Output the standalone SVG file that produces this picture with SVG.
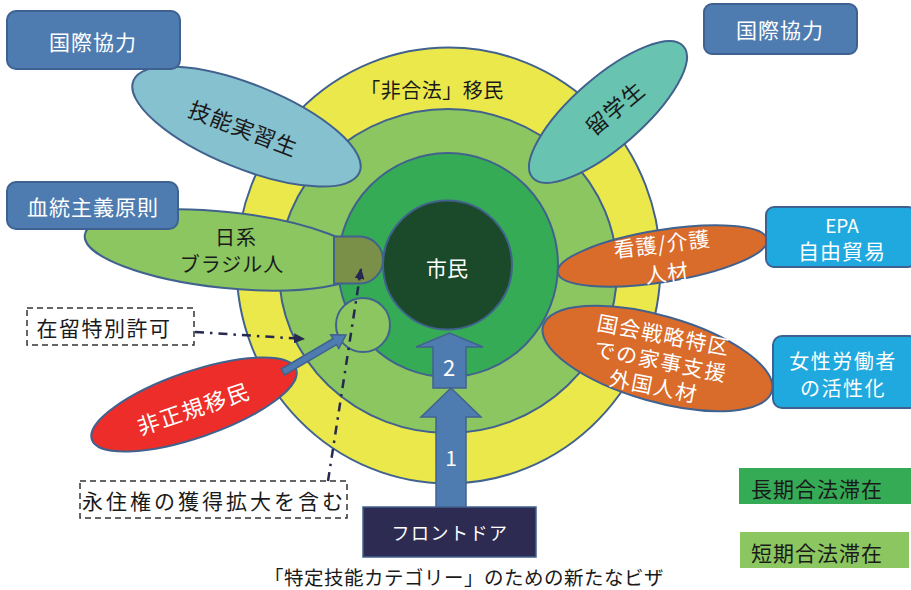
<svg xmlns="http://www.w3.org/2000/svg" width="911" height="590" viewBox="0 0 911 590">
<defs>
<style>
.ol{stroke:#41628e;stroke-width:2}
.t{font-family:"Noto Sans CJK JP","Noto Sans",sans-serif;text-anchor:middle;dominant-baseline:central}
.w{fill:#ffffff}
.k{fill:#1a1a1a}
.box{fill:#4e7cb0;stroke:#3e6190;stroke-width:2}
.box2{fill:#20a9de;stroke:#3e6190;stroke-width:2}
.dash{fill:#ffffff;stroke:#333333;stroke-width:1.5;stroke-dasharray:6 4}
.dd{fill:none;stroke:#27284f;stroke-width:2.5;stroke-dasharray:9 6 2.5 6}
.barrow{fill:#4e7cb0;stroke:#41628e;stroke-width:1.5}
</style>
<marker id="ah" markerWidth="11" markerHeight="10" refX="10" refY="5" orient="auto" markerUnits="userSpaceOnUse">
<path d="M0,0 L11,5 L0,10 Z" fill="#27284f"/>
</marker>
</defs>

<g id="rings">
<ellipse id="ring-yellow" class="ol" cx="448.5" cy="265.5" rx="212" ry="218" fill="#ebe84c"/>
<ellipse id="ring-lightgreen" class="ol" cx="448" cy="271" rx="169" ry="162" fill="#8bc660"/>
<ellipse id="ring-green" class="ol" cx="448" cy="265" rx="110" ry="112" fill="#35ab55"/>
</g>

<g id="illegal-label"><text class="t k" x="432" y="89" font-size="20" letter-spacing="0.5">「非合法」移民</text></g>

<g id="ginou">
<ellipse class="ol" cx="246.5" cy="126.5" rx="122" ry="42" transform="rotate(22 246.5 126.5)" fill="#86c1cf"/>
<text class="t k" x="244" y="127" font-size="22" letter-spacing="1" transform="rotate(21 244 127)">技能実習生</text>
</g>

<g id="ryugaku">
<ellipse class="ol" cx="608" cy="112" rx="100" ry="35" transform="rotate(-41 608 112)" fill="#68c4b0"/>
<text class="t k" x="614" y="107" font-size="22" letter-spacing="1" transform="rotate(-40 614 107)">留学生</text>
</g>

<g id="nikkei">
<ellipse class="ol" cx="226" cy="250" rx="142" ry="38" transform="rotate(6 226 250)" fill="#8bc660"/>
<text class="t k" x="236" y="236" font-size="20" letter-spacing="1">日系</text>
<text class="t k" x="232" y="263" font-size="20" letter-spacing="1">ブラジル人</text>
</g>

<g id="dshape">
<path class="ol" d="M334,236.5 L359.5,236.5 A23.5,23.5 0 0 1 359.5,283.5 L334,283.5 Z" fill="#7a8f48"/>
</g>

<g id="small-circle">
<circle class="ol" cx="363" cy="325" r="27" fill="#8bc660"/>
</g>

<g id="citizen">
<circle class="ol" cx="447.5" cy="265" r="64.5" fill="#1a4a2a"/>
<text class="t w" x="447" y="267" font-size="21">市民</text>
</g>

<g id="kango">
<ellipse class="ol" cx="662.5" cy="256" rx="106" ry="26" transform="rotate(-9 662.5 256)" fill="#d96b2b"/>
<text class="t w" x="662" y="243" font-size="21" letter-spacing="1" transform="rotate(-7 662 243)">看護/介護</text>
<text class="t w" x="667" y="272" font-size="21" letter-spacing="1" transform="rotate(-7 667 272)">人材</text>
</g>

<g id="tokku">
<ellipse class="ol" cx="657.5" cy="358.5" rx="119" ry="43" transform="rotate(16 657.5 358.5)" fill="#d96b2b"/>
<text class="t w" x="664" y="334" font-size="21" letter-spacing="1.5" transform="rotate(11 664 334)">国会戦略特区</text>
<text class="t w" x="661" y="360" font-size="21" letter-spacing="1.5" transform="rotate(11 661 360)">での家事支援</text>
<text class="t w" x="654" y="385" font-size="21" letter-spacing="1.5" transform="rotate(11 654 385)">外国人材</text>
</g>

<g id="irregular">
<ellipse class="ol" cx="194" cy="404.5" rx="108" ry="33" transform="rotate(-19 194 404.5)" fill="#ed2d2a"/>
<text class="t w" x="193" y="407" font-size="22" letter-spacing="1.5" transform="rotate(-18.5 193 407)">非正規移民</text>
</g>

<g id="kokusai-left">
<rect class="box" x="7" y="11" width="173" height="58" rx="9"/>
<text class="t w" x="93" y="41" font-size="21" letter-spacing="1">国際協力</text>
</g>
<g id="kettou">
<rect class="box" x="7" y="182" width="171" height="47" rx="9"/>
<text class="t w" x="93" y="206" font-size="21" letter-spacing="1">血統主義原則</text>
</g>
<g id="kokusai-right">
<rect class="box" x="704" y="4" width="153" height="50" rx="8"/>
<text class="t w" x="780" y="29" font-size="21" letter-spacing="1">国際協力</text>
</g>
<g id="epa">
<rect class="box2" x="766" y="207" width="150" height="60" rx="8"/>
<text class="t w" x="842" y="224" font-size="19">EPA</text>
<text class="t w" x="842" y="250" font-size="21" letter-spacing="1">自由貿易</text>
</g>
<g id="josei">
<rect class="box2" x="773" y="336" width="145" height="72" rx="9"/>
<text class="t w" x="843" y="360" font-size="20" letter-spacing="1.5">女性労働者</text>
<text class="t w" x="843" y="387" font-size="20" letter-spacing="1.5">の活性化</text>
</g>

<g id="legend-long">
<rect x="739" y="468" width="172" height="36" fill="#35ab55"/>
<text class="t k" x="817" y="488" font-size="21" letter-spacing="1">長期合法滞在</text>
</g>
<g id="legend-short">
<rect x="740" y="532" width="169" height="36" fill="#8bc660"/>
<text class="t k" x="817" y="552" font-size="21" letter-spacing="1">短期合法滞在</text>
</g>

<g id="zairyu">
<rect class="dash" x="27" y="308" width="167" height="37"/>
<text class="t k" x="104" y="327" font-size="21" letter-spacing="1.5">在留特別許可</text>
</g>
<g id="eijuu">
<rect class="dash" x="80" y="481" width="267" height="37"/>
<text class="t k" x="214" y="500" font-size="21" letter-spacing="3">永住権の獲得拡大を含む</text>
</g>

<g id="frontdoor">
<polygon class="barrow" points="436,509 436,417 421,417 451,388 481,417 466,417 466,509"/>
<text class="t w" x="451" y="457" font-size="21">1</text>
<polygon class="barrow" points="433,388 433,347 416,347 449.5,333 483,347 466,347 466,388"/>
<text class="t w" x="449" y="366" font-size="22">2</text>
<rect x="363" y="507" width="173" height="50" fill="#2d2b52" stroke="#41628e" stroke-width="1.5"/>
<text class="t w" x="450" y="532" font-size="18" letter-spacing="1.5">フロントドア</text>
</g>

<g id="visa-label"><text class="t k" x="464" y="576" font-size="19.5" letter-spacing="0.5">「特定技能カテゴリー」のための新たなビザ</text></g>

<g id="connectors">
<polygon class="barrow" points="0,-3.5 60,-3.5 60,-8 73,0 60,8 60,3.5 0,3.5" transform="translate(283 372) rotate(-30.4)"/>
<path class="dd" d="M195,332 L304,339" marker-end="url(#ah)"/>
<path class="dd" d="M328,481 L361,269" marker-end="url(#ah)"/>
</g>
</svg>
